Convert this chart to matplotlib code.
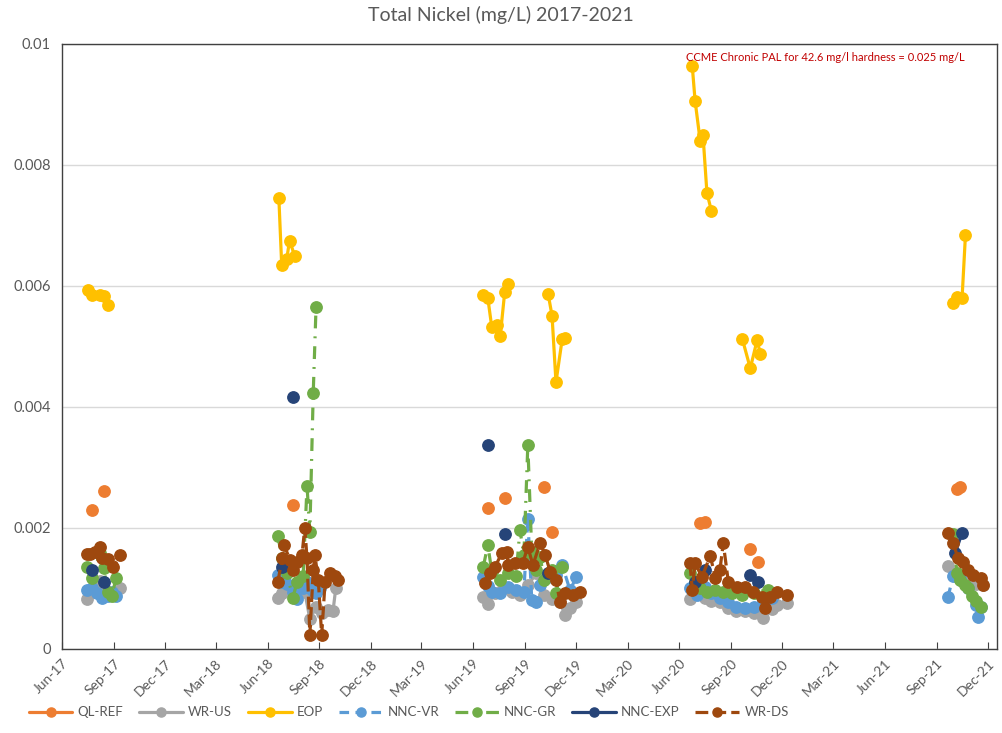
import matplotlib.pyplot as plt
import matplotlib.dates as mdates
import numpy as np
import pandas as pd

plt.rcParams['font.family'] = ['Lato', 'DejaVu Sans']

# sampling results, one list of runs per station; a new run starts a new line segment
ql_ref = [
    [("2017-07-24", 0.00230)], [("2017-08-14", 0.00261)],
    [("2018-07-16", 0.00238)],
    [("2019-06-27", 0.00233)], [("2019-07-28", 0.00250)],
    [("2019-10-05", 0.00267)], [("2019-10-19", 0.00194)],
    [("2020-07-08", 0.00208), ("2020-07-17", 0.00210)],
    [("2020-10-05", 0.00165)], [("2020-10-19", 0.00144)],
    [("2021-10-07", 0.00265), ("2021-10-13", 0.00268)],
]
wr_us = [
    [("2017-07-15", 0.00082), ("2017-07-24", 0.00095), ("2017-08-07", 0.00113),
     ("2017-08-14", 0.00100), ("2017-08-28", 0.00092), ("2017-09-12", 0.00100)],
    [("2018-06-19", 0.00084), ("2018-06-27", 0.00092), ("2018-07-05", 0.00098),
     ("2018-07-16", 0.00103), ("2018-07-28", 0.00100), ("2018-08-06", 0.00094),
     ("2018-08-15", 0.00050), ("2018-08-26", 0.00070), ("2018-09-05", 0.00060),
     ("2018-09-16", 0.00065), ("2018-09-25", 0.00062), ("2018-09-30", 0.00100)],
    [("2019-06-19", 0.00086), ("2019-06-27", 0.00075), ("2019-07-10", 0.00092),
     ("2019-07-24", 0.00100), ("2019-08-09", 0.00095), ("2019-08-23", 0.00089),
     ("2019-09-06", 0.00105), ("2019-09-21", 0.00125), ("2019-10-05", 0.00090),
     ("2019-10-19", 0.00082), ("2019-11-02", 0.00078), ("2019-11-11", 0.00056),
     ("2019-11-20", 0.00068), ("2019-12-01", 0.00078)],
    [("2020-06-20", 0.00082), ("2020-07-03", 0.00092), ("2020-07-17", 0.00085),
     ("2020-07-28", 0.00080), ("2020-08-12", 0.00078), ("2020-08-27", 0.00068),
     ("2020-09-10", 0.00063), ("2020-09-26", 0.00062), ("2020-10-12", 0.00060),
     ("2020-10-28", 0.00052), ("2020-11-13", 0.00066), ("2020-11-22", 0.00072),
     ("2020-12-10", 0.00076)],
    [("2021-09-21", 0.00138), ("2021-10-04", 0.00120), ("2021-10-16", 0.00112),
     ("2021-10-27", 0.00118), ("2021-11-10", 0.00108), ("2021-11-23", 0.00106)],
]
eop = [
    [("2017-07-17", 0.00594), ("2017-07-24", 0.00585), ("2017-08-07", 0.00585),
     ("2017-08-14", 0.00584), ("2017-08-21", 0.00569)],
    [("2018-06-21", 0.00745), ("2018-06-26", 0.00635), ("2018-07-05", 0.00645),
     ("2018-07-10", 0.00675), ("2018-07-19", 0.00650)],
    [("2019-06-19", 0.00585), ("2019-06-27", 0.00580), ("2019-07-04", 0.00532),
     ("2019-07-13", 0.00535), ("2019-07-19", 0.00517), ("2019-07-27", 0.00590),
     ("2019-08-02", 0.00604)],
    [("2019-10-12", 0.00587), ("2019-10-19", 0.00551), ("2019-10-26", 0.00441),
     ("2019-11-06", 0.00512), ("2019-11-11", 0.00514)],
    [("2020-06-24", 0.00963), ("2020-06-29", 0.00906), ("2020-07-08", 0.00840),
     ("2020-07-13", 0.00850), ("2020-07-20", 0.00754), ("2020-07-28", 0.00724)],
    [("2020-09-21", 0.00512), ("2020-10-05", 0.00464), ("2020-10-17", 0.00510),
     ("2020-10-23", 0.00488)],
    [("2021-09-30", 0.00572), ("2021-10-07", 0.00582), ("2021-10-16", 0.00580),
     ("2021-10-22", 0.00684)],
]
nnc_vr = [
    [("2017-07-15", 0.00097), ("2017-07-24", 0.00100), ("2017-08-02", 0.00093),
     ("2017-08-11", 0.00085), ("2017-08-21", 0.00088), ("2017-08-28", 0.00095),
     ("2017-09-05", 0.00087)],
    [("2018-06-19", 0.00122), ("2018-06-27", 0.00110), ("2018-07-05", 0.00107),
     ("2018-07-16", 0.00095), ("2018-07-23", 0.00082), ("2018-08-03", 0.00100),
     ("2018-08-10", 0.00110), ("2018-08-19", 0.00098), ("2018-08-26", 0.00093),
     ("2018-09-02", 0.00100)],
    [("2019-06-19", 0.00119), ("2019-06-27", 0.00104), ("2019-07-04", 0.00094),
     ("2019-07-19", 0.00092), ("2019-08-02", 0.00103), ("2019-08-16", 0.00098),
     ("2019-08-30", 0.00095), ("2019-09-06", 0.00215), ("2019-09-13", 0.00081),
     ("2019-09-21", 0.00078), ("2019-09-28", 0.00105), ("2019-10-12", 0.00119),
     ("2019-10-26", 0.00122), ("2019-11-06", 0.00139), ("2019-11-20", 0.00097),
     ("2019-12-01", 0.00119)],
    [("2020-06-20", 0.00100), ("2020-07-03", 0.00089), ("2020-07-17", 0.00103),
     ("2020-07-28", 0.00092), ("2020-08-12", 0.00085), ("2020-08-27", 0.00078),
     ("2020-09-10", 0.00070), ("2020-09-26", 0.00068), ("2020-10-12", 0.00070),
     ("2020-10-28", 0.00080), ("2020-11-13", 0.00085)],
    [("2021-09-21", 0.00086), ("2021-09-30", 0.00120), ("2021-10-13", 0.00118),
     ("2021-10-27", 0.00100), ("2021-11-10", 0.00072), ("2021-11-14", 0.00053),
     ("2021-11-18", 0.00070)],
]
nnc_gr = [
    [("2017-07-15", 0.00136), ("2017-07-24", 0.00117), ("2017-08-07", 0.00158),
     ("2017-08-14", 0.00134), ("2017-08-21", 0.00095), ("2017-08-28", 0.00087),
     ("2017-09-05", 0.00117)],
    [("2018-06-19", 0.00187), ("2018-06-27", 0.00150), ("2018-07-05", 0.00125),
     ("2018-07-16", 0.00085), ("2018-07-23", 0.00110), ("2018-08-03", 0.00120),
     ("2018-08-10", 0.00270), ("2018-08-15", 0.00193), ("2018-08-21", 0.00423),
     ("2018-08-26", 0.00565)],
    [("2019-06-19", 0.00136), ("2019-06-27", 0.00172), ("2019-07-04", 0.00128),
     ("2019-07-19", 0.00114), ("2019-08-02", 0.00125), ("2019-08-16", 0.00120),
     ("2019-08-23", 0.00197), ("2019-08-30", 0.00155), ("2019-09-06", 0.00337),
     ("2019-09-13", 0.00160), ("2019-09-21", 0.00130), ("2019-09-28", 0.00152),
     ("2019-10-05", 0.00114), ("2019-10-19", 0.00130), ("2019-10-26", 0.00093),
     ("2019-11-06", 0.00136)],
    [("2020-06-20", 0.00126), ("2020-06-29", 0.00110), ("2020-07-08", 0.00100),
     ("2020-07-20", 0.00094), ("2020-08-04", 0.00098), ("2020-08-18", 0.00095),
     ("2020-09-03", 0.00092), ("2020-09-21", 0.00090), ("2020-10-12", 0.00093),
     ("2020-11-05", 0.00098)],
    [("2021-09-30", 0.00190), ("2021-10-07", 0.00125), ("2021-10-13", 0.00114),
     ("2021-10-22", 0.00105), ("2021-10-27", 0.00100), ("2021-11-03", 0.00088),
     ("2021-11-10", 0.00080), ("2021-11-18", 0.00070)],
]
nnc_exp = [
    [("2017-07-24", 0.00131)], [("2017-08-14", 0.00111)],
    [("2018-06-27", 0.00136)], [("2018-07-16", 0.00417)],
    [("2019-06-27", 0.00337)], [("2019-07-28", 0.00190)], [("2019-10-12", 0.00125)],
    [("2020-06-29", 0.00111)], [("2020-07-17", 0.00130)],
    [("2020-10-05", 0.00122)], [("2020-10-19", 0.00111)],
    [("2021-10-04", 0.00159), ("2021-10-16", 0.00192)],
]
wr_ds = [
    [("2017-07-15", 0.00157), ("2017-07-20", 0.00157), ("2017-07-29", 0.00160),
     ("2017-08-07", 0.00168), ("2017-08-11", 0.00150), ("2017-08-21", 0.00148),
     ("2017-08-31", 0.00135), ("2017-09-12", 0.00155)],
    [("2018-06-19", 0.00110), ("2018-06-27", 0.00150), ("2018-06-30", 0.00172),
     ("2018-07-11", 0.00147), ("2018-07-16", 0.00130), ("2018-07-23", 0.00144),
     ("2018-08-01", 0.00155), ("2018-08-06", 0.00200), ("2018-08-10", 0.00150),
     ("2018-08-15", 0.00023), ("2018-08-21", 0.00130), ("2018-08-24", 0.00155),
     ("2018-08-30", 0.00114), ("2018-09-05", 0.00023), ("2018-09-11", 0.00110),
     ("2018-09-20", 0.00125), ("2018-09-28", 0.00120), ("2018-10-04", 0.00114)],
    [("2019-06-22", 0.00109), ("2019-07-01", 0.00126), ("2019-07-10", 0.00136),
     ("2019-07-22", 0.00159), ("2019-07-31", 0.00160), ("2019-08-02", 0.00139),
     ("2019-08-14", 0.00142), ("2019-08-28", 0.00142), ("2019-09-06", 0.00169),
     ("2019-09-15", 0.00139), ("2019-09-28", 0.00175), ("2019-10-07", 0.00155),
     ("2019-10-16", 0.00127), ("2019-10-26", 0.00114), ("2019-11-02", 0.00078),
     ("2019-11-11", 0.00093), ("2019-11-25", 0.00089), ("2019-12-08", 0.00094)],
    [("2020-06-20", 0.00142), ("2020-06-24", 0.00098), ("2020-06-29", 0.00142),
     ("2020-07-11", 0.00119), ("2020-07-26", 0.00154), ("2020-08-04", 0.00117),
     ("2020-08-12", 0.00130), ("2020-08-18", 0.00175), ("2020-08-27", 0.00111),
     ("2020-09-12", 0.00103), ("2020-09-26", 0.00103), ("2020-10-10", 0.00094),
     ("2020-10-26", 0.00086), ("2020-10-31", 0.00068), ("2020-11-09", 0.00086),
     ("2020-11-22", 0.00094), ("2020-12-10", 0.00090)],
    [("2021-09-21", 0.00192), ("2021-09-30", 0.00175), ("2021-10-09", 0.00150),
     ("2021-10-18", 0.00144), ("2021-10-27", 0.00130), ("2021-11-05", 0.00122),
     ("2021-11-18", 0.00117), ("2021-11-23", 0.00106)],
]

series_names = ["QL-REF", "WR-US", "EOP", "NNC-VR", "NNC-GR", "NNC-EXP", "WR-DS"]
series_data = [ql_ref, wr_us, eop, nnc_vr, nnc_gr, nnc_exp, wr_ds]
colors = ["#ED7D31", "#A5A5A5", "#FFC000", "#5B9BD5", "#70AD47", "#264478", "#9E480E"]
dashes = [None, None, None, (3, 2), (4, 2.5, 0.6, 2.5), None, (4, 1.6)]


def to_xy(runs):
    # join the runs, putting a NaN between them so the line breaks
    xs, ys = [], []
    for run in runs:
        for d, v in run:
            xs.append(pd.Timestamp(d))
            ys.append(v)
        xs.append(pd.Timestamp(run[-1][0]) + pd.Timedelta(days=1))
        ys.append(np.nan)
    return xs, ys


fig = plt.figure(figsize=(10.02, 7.33), dpi=100)
ax = fig.add_axes([0.0619, 0.1146, 0.9331, 0.8254])

for name, runs, c, ds in zip(series_names, series_data, colors, dashes):
    xs, ys = to_xy(runs)
    line, = ax.plot(xs, ys, color=c, lw=2.3, marker='o', ms=8.2, mec=c, mfc=c,
                    label=name, solid_capstyle='round')
    if ds is not None:
        line.set_dashes(ds)

ax.set_xlim(pd.Timestamp("2017-06-01"), pd.Timestamp("2021-12-17"))
ax.set_ylim(0, 0.01)
ax.set_yticks(np.arange(0, 0.0101, 0.002))
ax.set_yticklabels(["0", "0.002", "0.004", "0.006", "0.008", "0.01"])
ax.xaxis.set_major_locator(mdates.MonthLocator(bymonth=[3, 6, 9, 12], bymonthday=1))
ax.xaxis.set_major_formatter(mdates.DateFormatter('%b-%y'))
plt.setp(ax.get_xticklabels(), rotation=45, ha='right', rotation_mode='anchor')

ax.grid(axis='y', color='#D9D9D9', lw=1)
ax.set_axisbelow(True)
ax.tick_params(axis='x', direction='in', length=5, color='#404040', labelsize=10,
               labelcolor='#595959', pad=6)
ax.tick_params(axis='y', length=0, labelsize=10.5, labelcolor='#595959', pad=8)
for s in ax.spines.values():
    s.set_color('#404040')
    s.set_linewidth(1)

ax.text(0.667, 0.978, "CCME Chronic PAL for 42.6 mg/l hardness = 0.025 mg/L",
        transform=ax.transAxes, fontsize=8, color='#C00000', va='center', ha='left')

fig.suptitle("Total Nickel (mg/L) 2017-2021", y=0.98, va='center', fontsize=14,
             color='#595959')
fig.legend(loc='center', bbox_to_anchor=(0.408, 0.028), ncol=7, frameon=False,
           fontsize=9.5, handlelength=3.3, columnspacing=1.2, handletextpad=0.4,
           markerscale=0.8, labelcolor='#595959')

fig.savefig("out.png", dpi=100)
